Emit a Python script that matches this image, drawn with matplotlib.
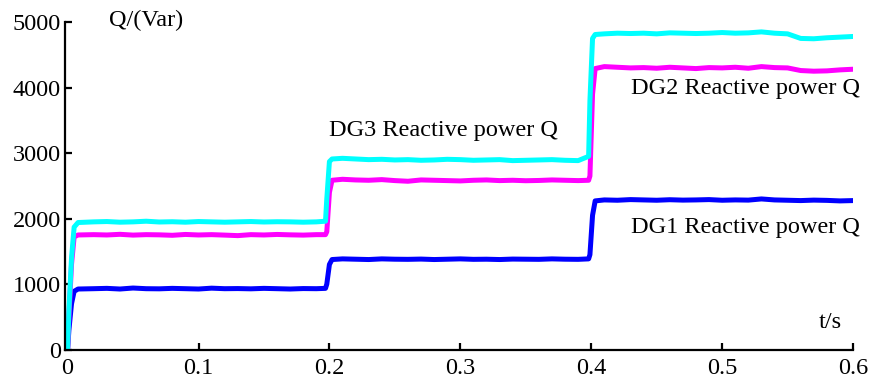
import matplotlib
matplotlib.use("Agg")
import matplotlib.pyplot as plt
import numpy as np

# time samples (s)
t_init = [0.0, 0.001, 0.003, 0.005, 0.008]
t_p1 = [round(0.02 + 0.01 * i, 3) for i in range(18)]
t_s1 = [0.197, 0.198, 0.200, 0.202]
t_p2 = [round(0.21 + 0.01 * i, 3) for i in range(19)]
t_s2 = [0.398, 0.399, 0.401, 0.403]
t_p3 = [round(0.41 + 0.01 * i, 3) for i in range(20)]
t = t_init + t_p1 + t_s1 + t_p2 + t_s2 + t_p3

dg1 = ([0, 300, 700, 890, 925] +
       [930, 935, 925, 940, 930, 928, 935, 930, 925, 938, 930, 932, 928, 935, 930, 925, 932, 930] +
       [935, 1000, 1300, 1375] +
       [1385, 1380, 1375, 1385, 1380, 1378, 1382, 1375, 1380, 1385, 1378, 1380, 1375, 1382, 1380, 1378, 1385, 1380, 1378] +
       [1385, 1450, 2050, 2270] +
       [2285, 2280, 2290, 2285, 2280, 2288, 2282, 2285, 2290, 2280, 2285, 2282, 2300, 2285, 2280, 2275, 2282, 2278, 2270, 2275])

dg2 = ([0, 500, 1300, 1720, 1750] +
       [1755, 1750, 1760, 1748, 1755, 1752, 1745, 1758, 1750, 1755, 1748, 1740, 1755, 1750, 1758, 1752, 1748, 1755] +
       [1755, 1800, 2400, 2585] +
       [2600, 2590, 2585, 2595, 2580, 2570, 2590, 2585, 2580, 2575, 2585, 2590, 2580, 2585, 2578, 2582, 2590, 2585, 2580] +
       [2585, 2650, 3900, 4290] +
       [4320, 4310, 4300, 4305, 4295, 4310, 4300, 4290, 4305, 4300, 4310, 4295, 4320, 4305, 4300, 4260, 4250, 4255, 4270, 4280])

dg3 = ([0, 600, 1400, 1870, 1940] +
       [1950, 1955, 1945, 1950, 1960, 1948, 1952, 1945, 1955, 1950, 1945, 1950, 1955, 1948, 1952, 1950, 1945, 1950] +
       [1960, 2300, 2870, 2910] +
       [2920, 2910, 2900, 2905, 2895, 2900, 2890, 2895, 2905, 2900, 2890, 2895, 2900, 2885, 2890, 2895, 2900, 2890, 2885] +
       [2950, 3800, 4750, 4810] +
       [4820, 4830, 4825, 4830, 4820, 4835, 4830, 4825, 4830, 4840, 4830, 4835, 4850, 4830, 4820, 4750, 4745, 4760, 4770, 4780])

xticks = [0, 0.1, 0.2, 0.3, 0.4, 0.5, 0.6]
xticklabels = ["0", "0.1", "0.2", "0.3", "0.4", "0.5", "0.6"]
yticks = [0, 1000, 2000, 3000, 4000, 5000]

plt.rcParams['font.family'] = ['Liberation Serif', 'DejaVu Serif']
fs = 17.5

fig = plt.figure(figsize=(8.84, 3.87), dpi=100)
ax = fig.add_axes([0.0735, 0.0966, 0.8915, 0.8464])

lw = 3.6
ax.plot(t, dg1, color='#0000FF', lw=lw, solid_joinstyle='round')
ax.plot(t, dg2, color='#FF00FF', lw=lw, solid_joinstyle='round')
ax.plot(t, dg3, color='#00FFFF', lw=lw, solid_joinstyle='round')

ax.set_xlim(-0.002, 0.6)
ax.set_ylim(0, 5000)
ax.set_xticks(xticks)
ax.set_xticklabels(xticklabels)
ax.set_yticks(yticks)

for s in ['top', 'right']:
    ax.spines[s].set_visible(False)
for s in ['left', 'bottom']:
    ax.spines[s].set_linewidth(1.6)
ax.tick_params(direction='in', length=5, width=1.6, labelsize=fs, pad=3)
ax.tick_params(axis='x', pad=6)

ax.text(0.032, 5030, "Q/(Var)", fontsize=fs, ha='left', va='center', clip_on=False)
ax.text(0.574, 420, "t/s", fontsize=fs, ha='left', va='center')
ax.text(0.200, 3340, "DG3 Reactive power Q", fontsize=fs, ha='left', va='center')
ax.text(0.430, 3980, "DG2 Reactive power Q", fontsize=fs, ha='left', va='center')
ax.text(0.430, 1870, "DG1 Reactive power Q", fontsize=fs, ha='left', va='center')

fig.savefig("out.png", dpi=100)
